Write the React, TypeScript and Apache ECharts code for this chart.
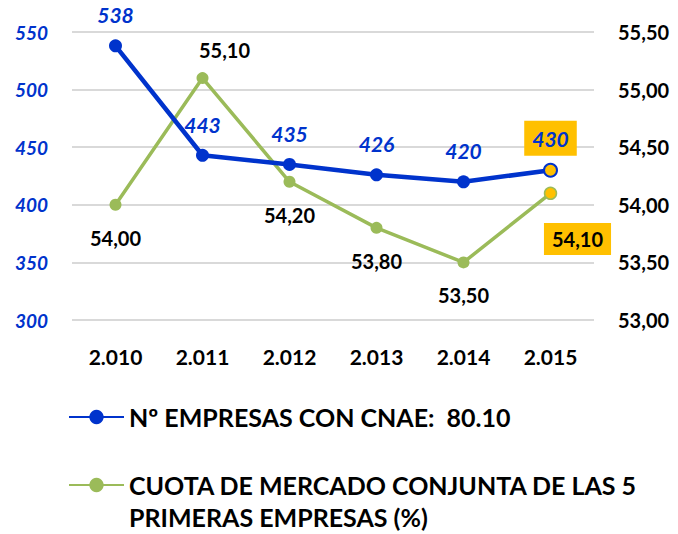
import React, { useEffect, useRef } from "react";
import * as echarts from "echarts";

const categories = ["2.010", "2.011", "2.012", "2.013", "2.014", "2.015"];
const empresas = [538, 443, 435, 426, 420, 430];
const cuota = [54.0, 55.1, 54.2, 53.8, 53.5, 54.1];
const leftTicks = { min: 300, max: 550, interval: 50 };
const rightTicks = { min: 53, max: 55.5, interval: 0.5 };
const nameEmpresas = "Nº EMPRESAS CON CNAE:  80.10";
const nameCuota = "CUOTA DE MERCADO CONJUNTA DE LAS 5 PRIMERAS EMPRESAS (%)";

const BLUE = "#0033CC";
const GREEN = "#9BBB59";
const YELLOW = "#FFC000";
const FONT = "Lato, 'Open Sans', sans-serif";

const fmtComma = (v: number) => v.toFixed(2).replace(".", ",");

export default function App() {
  const ref = useRef<HTMLDivElement>(null);
  useEffect(() => {
    if (!ref.current) return;
    const chart = echarts.init(ref.current, null, { renderer: "svg" });
    const last = categories.length - 1;

    const blueData = empresas.map((v, i) => {
      const item: any = { value: v };
      if (i === last) {
        item.itemStyle = { color: YELLOW, borderColor: BLUE, borderWidth: 2 };
        item.label = {
          backgroundColor: YELLOW,
          padding: [7, 8, 7, 8],
          distance: 7,
        };
      }
      return item;
    });

    const greenData = cuota.map((v, i) => {
      const item: any = { value: v };
      if (i === 1) {
        item.label = { position: "top", distance: 12, offset: [22, 0] };
      }
      if (i === last) {
        item.itemStyle = { color: YELLOW, borderColor: GREEN, borderWidth: 1.5 };
        item.label = {
          backgroundColor: YELLOW,
          padding: [6, 8, 6, 8],
          distance: 23,
          offset: [27, 0],
        };
      }
      return item;
    });

    chart.setOption({
      animation: false,
      grid: { left: 72, right: 84, top: 32, bottom: 214 },
      legend: {
        orient: "vertical",
        left: 68,
        top: 401,
        height: 300,
        padding: 0,
        itemGap: 4,
        itemWidth: 55,
        itemHeight: 18,
        data: [nameEmpresas, nameCuota],
        formatter: (name: string) =>
          name === nameCuota
            ? " \nCUOTA DE MERCADO CONJUNTA DE LAS 5\nPRIMERAS EMPRESAS (%)"
            : name,
        textStyle: {
          fontFamily: FONT,
          fontWeight: "bold",
          fontSize: 25,
          color: "#000",
          lineHeight: 32,
        },
      },
      xAxis: {
        type: "category",
        data: categories,
        boundaryGap: true,
        axisLine: { show: false },
        axisTick: { show: false },
        axisLabel: {
          margin: 26,
          fontFamily: FONT,
          fontWeight: "bold",
          fontSize: 21,
          color: "#000",
        },
      },
      yAxis: [
        {
          type: "value",
          min: leftTicks.min,
          max: leftTicks.max,
          interval: leftTicks.interval,
          axisLine: { show: false },
          axisTick: { show: false },
          splitLine: { lineStyle: { color: "#D9D9D9", width: 2 } },
          axisLabel: {
            margin: 24,
            fontFamily: FONT,
            fontWeight: "bold",
            fontStyle: "italic",
            fontSize: 19,
            color: BLUE,
          },
        },
        {
          type: "value",
          min: rightTicks.min,
          max: rightTicks.max,
          interval: rightTicks.interval,
          axisLine: { show: false },
          axisTick: { show: false },
          splitLine: { show: false },
          axisLabel: {
            margin: 24,
            fontFamily: FONT,
            fontWeight: "bold",
            fontSize: 20,
            color: "#000",
            formatter: (v: number) => fmtComma(v),
          },
        },
      ],
      series: [
        {
          name: nameCuota,
          type: "line",
          yAxisIndex: 1,
          data: greenData,
          z: 2,
          symbol: "circle",
          symbolSize: 12,
          lineStyle: { color: GREEN, width: 3.5 },
          itemStyle: { color: GREEN },
          label: {
            show: true,
            position: "bottom",
            distance: 17,
            fontFamily: FONT,
            fontWeight: "bold",
            fontSize: 20,
            color: "#000",
            formatter: (p: any) => fmtComma(p.value),
          },
        },
        {
          name: nameEmpresas,
          type: "line",
          yAxisIndex: 0,
          data: blueData,
          z: 3,
          symbol: "circle",
          symbolSize: 13,
          lineStyle: { color: BLUE, width: 4.5 },
          itemStyle: { color: BLUE },
          label: {
            show: true,
            position: "top",
            distance: 14,
            fontFamily: FONT,
            fontWeight: "bold",
            fontStyle: "italic",
            fontSize: 21,
            color: BLUE,
          },
        },
      ],
    });
    return () => chart.dispose();
  }, []);
  return (
    <div
      ref={ref}
      style={{ position: "fixed", left: 0, top: 0, width: 678, height: 534, background: "#fff" }}
    />
  );
}
